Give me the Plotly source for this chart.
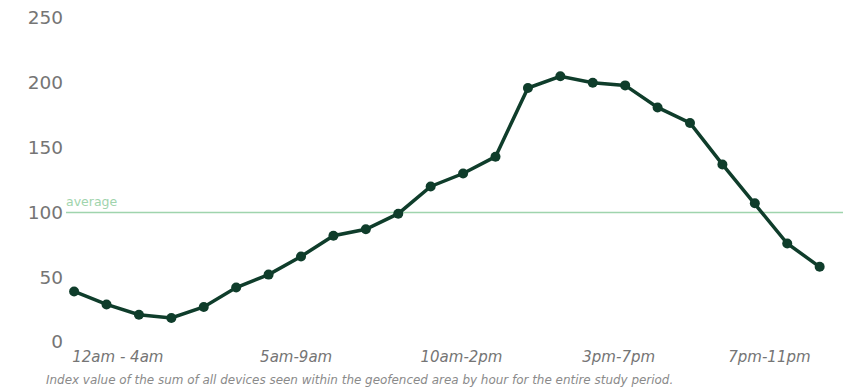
import plotly.graph_objects as go

# Hourly index values (hour 0 = 12am ... hour 23 = 11pm)
hours = list(range(24))
index_values = [39, 29, 21, 18.5, 27, 42, 52, 66, 82, 87, 99, 120,
                130, 143, 196, 205, 200, 198, 181, 169, 137, 107, 76, 58]
average_value = 100

# Time-block labels and the hour positions they are centred on
block_labels = ["12am - 4am", "5am-9am", "10am-2pm", "3pm-7pm", "7pm-11pm"]
block_positions = [1.35, 6.85, 11.95, 16.8, 21.45]

y_ticks = [0, 50, 100, 150, 200, 250]

caption = ("Index value of the sum of all devices seen within the geofenced "
           "area by hour for the entire study period.")

DARK_GREEN = "#0f3d2b"
LIGHT_GREEN = "#9fd4ad"
GREY = "#757575"
FONT = "DejaVu Sans"

fig = go.Figure()

# Average reference line
fig.add_hline(y=average_value, line=dict(color=LIGHT_GREEN, width=1.5), layer="below")

fig.add_trace(go.Scatter(
    x=hours, y=index_values, mode="lines+markers",
    line=dict(color=DARK_GREEN, width=3.5),
    marker=dict(color=DARK_GREEN, size=10),
    hoverinfo="x+y", showlegend=False,
))

fig.add_annotation(
    x=0, xref="paper", y=average_value, yref="y",
    text="average", showarrow=False, xanchor="left", yanchor="bottom",
    xshift=-2, yshift=1, font=dict(family=FONT, size=12.5, color=LIGHT_GREEN),
)

fig.add_annotation(
    x=-22 / 777, xref="paper", y=-0.118, yref="paper",
    text="<i>" + caption + "</i>", showarrow=False,
    xanchor="left", yanchor="middle",
    font=dict(family=FONT, size=11.95, color="#8a8a8a"),
)

fig.update_layout(
    width=848, height=391,
    margin=dict(l=66, r=5, t=18, b=49),
    paper_bgcolor="white", plot_bgcolor="white",
    font=dict(family=FONT, color=GREY),
    xaxis=dict(
        range=[-0.25, 23.72], showgrid=False, zeroline=False, showline=False,
        tickmode="array", tickvals=block_positions,
        ticktext=["<i>" + t + "</i>" for t in block_labels],
        tickfont=dict(family=FONT, size=15, color=GREY),
        ticks="", ticklabelstandoff=4,
    ),
    yaxis=dict(
        range=[0, 250], showgrid=False, zeroline=False, showline=False,
        tickmode="array", tickvals=y_ticks,
        tickfont=dict(family=FONT, size=18.5, color=GREY),
        ticks="", ticklabelstandoff=2,
    ),
)

fig.write_html("out.html")
